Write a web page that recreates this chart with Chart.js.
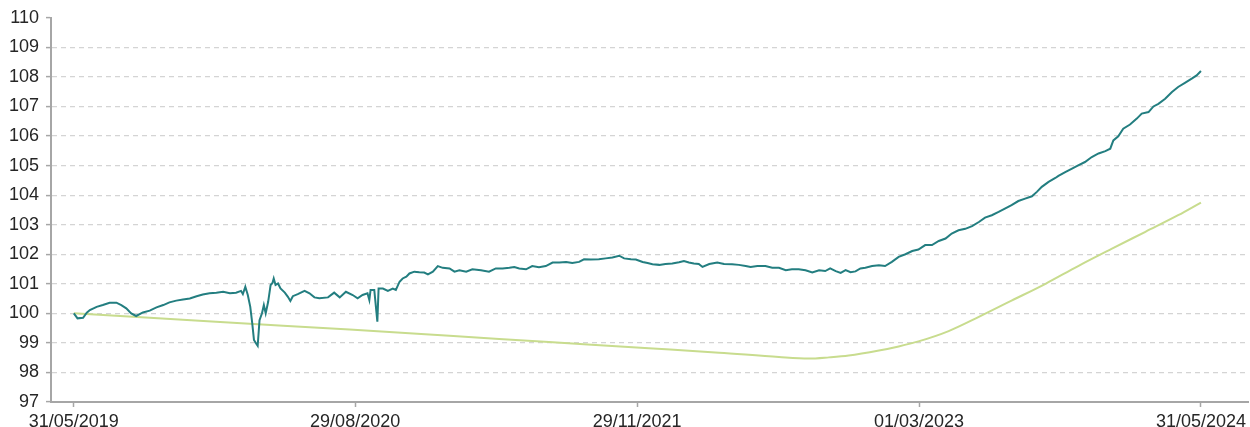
<!DOCTYPE html>
<html>
<head>
<meta charset="utf-8">
<script src="https://cdn.jsdelivr.net/npm/chart.js@4.4.1/dist/chart.umd.min.js"></script>
<style>
  html, body { margin: 0; padding: 0; background: #ffffff; }
  #wrap { width: 1250px; height: 427px; }
</style>
</head>
<body>
<div id="wrap"><canvas id="myChart" width="1250" height="427"></canvas></div>
<script>
// x values are days counted from 31/05/2019
const tickDays = [0, 456, 913, 1370, 1827];
const tickLabels = ['31/05/2019', '29/08/2020', '29/11/2021', '01/03/2023', '31/05/2024'];

const tealDays = [
  0, 6, 15, 21, 26, 37, 47, 58, 69, 77, 85, 93, 101, 112, 123, 134, 145, 155, 166, 177,
  188, 199, 209, 220, 231, 242, 253, 263, 271, 274, 278, 282, 286, 289, 292, 296, 298, 301, 305, 308,
  311, 315, 319, 322, 324, 327, 331, 335, 342, 347, 351, 355, 363, 374, 382, 390, 398, 412, 422, 431,
  441, 452, 460, 468, 476, 479, 481, 487, 492, 494, 501, 509, 517, 522, 528, 533, 539, 544, 552, 560,
  568, 574, 582, 590, 598, 609, 617, 625, 636, 646, 660, 673, 684, 695, 706, 714, 722, 733, 743, 754,
  765, 776, 787, 798, 808, 819, 827, 838, 851, 862, 873, 884, 892, 903, 911, 922, 930, 938, 949, 959,
  970, 981, 989, 997, 1005, 1013, 1019, 1030, 1043, 1054, 1067, 1078, 1089, 1097, 1108, 1121, 1132, 1143, 1154, 1164,
  1175, 1186, 1197, 1208, 1218, 1226, 1235, 1243, 1251, 1259, 1267, 1275, 1283, 1294, 1305, 1315, 1326, 1337, 1348, 1359,
  1369, 1380, 1391, 1402, 1413, 1423, 1434, 1445, 1456, 1467, 1477, 1488, 1499, 1510, 1520, 1531, 1542, 1553, 1561, 1569,
  1580, 1591, 1596, 1607, 1618, 1628, 1639, 1650, 1661, 1672, 1680, 1685, 1693, 1701, 1712, 1723, 1731, 1742, 1750, 1758,
  1769, 1780, 1790, 1801, 1812, 1820, 1827
];
const tealValues = [
  100.0, 99.83, 99.85, 100.02, 100.11, 100.22, 100.28, 100.36, 100.36, 100.28, 100.17, 100.0, 99.91, 100.03, 100.09, 100.2, 100.28, 100.37, 100.43, 100.47,
  100.5, 100.58, 100.64, 100.68, 100.7, 100.73, 100.68, 100.7, 100.76, 100.65, 100.9, 100.62, 100.22, 99.7, 99.1, 98.96, 98.9, 99.77, 100.0, 100.28,
  100.0, 100.39, 100.96, 101.03, 101.18, 100.96, 101.01, 100.84, 100.7, 100.56, 100.42, 100.58, 100.65, 100.76, 100.68, 100.54, 100.51, 100.54, 100.7, 100.54,
  100.73, 100.62, 100.51, 100.62, 100.68, 100.45, 100.79, 100.79, 99.72, 100.84, 100.84, 100.76, 100.84, 100.79, 101.07, 101.18, 101.24, 101.35, 101.41, 101.39,
  101.38, 101.32, 101.41, 101.6, 101.54, 101.52, 101.41, 101.46, 101.41, 101.49, 101.46, 101.41, 101.52, 101.52, 101.54, 101.57, 101.52, 101.49, 101.6, 101.56,
  101.6, 101.72, 101.72, 101.74, 101.7, 101.74, 101.83, 101.82, 101.83, 101.86, 101.89, 101.95, 101.86, 101.83, 101.82, 101.74, 101.7, 101.66, 101.64, 101.67,
  101.69, 101.73, 101.77, 101.72, 101.69, 101.67, 101.57, 101.67, 101.72, 101.67, 101.66, 101.64, 101.6, 101.57, 101.6, 101.6, 101.54, 101.54, 101.46, 101.49,
  101.49, 101.46, 101.38, 101.46, 101.43, 101.52, 101.43, 101.37, 101.46, 101.39, 101.42, 101.52, 101.54, 101.6, 101.63, 101.6, 101.74, 101.91, 102.0, 102.11,
  102.16, 102.31, 102.31, 102.45, 102.53, 102.7, 102.81, 102.86, 102.95, 103.09, 103.24, 103.32, 103.43, 103.55, 103.66, 103.8, 103.88, 103.96, 104.11, 104.28,
  104.45, 104.58, 104.65, 104.78, 104.9, 105.01, 105.12, 105.29, 105.41, 105.49, 105.57, 105.85, 105.99, 106.25, 106.39, 106.59, 106.76, 106.81, 107.0, 107.09,
  107.26, 107.49, 107.66, 107.8, 107.94, 108.05, 108.2
];

const greenDays = [0, 123, 285, 447, 609, 770, 932, 1046, 1143, 1191, 1224, 1256, 1305, 1337, 1369, 1418, 1467, 1520, 1575, 1628, 1682, 1737, 1790, 1827];
const greenValues = [100.0, 99.85, 99.65, 99.45, 99.24, 99.03, 98.82, 98.67, 98.52, 98.47, 98.51, 98.57, 98.74, 98.88, 99.05, 99.4, 99.88, 100.43, 101.0, 101.6, 102.18, 102.76, 103.32, 103.75];

const toPoints = (xs, ys) => xs.map((x, i) => ({ x: x, y: ys[i] }));

const textColor = '#262626';
const axisColor = '#a6a6a6';
const gridColor = '#d4d4d4';

const ctx = document.getElementById('myChart').getContext('2d');

const config = {
  type: 'line',
  data: {
    datasets: [{
      label: 'Serie 1',
      data: toPoints(tealDays, tealValues),
      borderColor: '#237e80',
      borderWidth: 2,
      pointRadius: 0,
      tension: 0
    }, {
      label: 'Serie 2',
      data: toPoints(greenDays, greenValues),
      borderColor: '#c8dc8e',
      borderWidth: 2,
      pointRadius: 0,
      cubicInterpolationMode: 'monotone'
    }]
  },
  options: {
    responsive: false,
    animation: false,
    devicePixelRatio: 1,
    layout: { padding: { top: 17, right: 0, left: 0, bottom: 0 } },
    plugins: {
      legend: { display: false },
      tooltip: { enabled: false }
    },
    scales: {
      x: {
        type: 'linear',
        min: -37,
        max: 1904,
        afterBuildTicks: (scale) => {
          scale.ticks = tickDays.map(v => ({ value: v }));
        },
        afterFit: (scale) => { scale.height = 25; },
        ticks: {
          autoSkip: false,
          maxRotation: 0,
          padding: 4,
          color: textColor,
          font: { family: 'Liberation Sans, Arial, sans-serif', size: 18 },
          callback: (value) => {
            const i = tickDays.indexOf(value);
            return i >= 0 ? tickLabels[i] : '';
          }
        },
        grid: {
          drawOnChartArea: false,
          drawTicks: true,
          tickLength: 5,
          tickColor: axisColor,
          tickWidth: 1.5
        },
        border: { display: true, color: axisColor, width: 2 }
      },
      y: {
        min: 97,
        max: 110,
        afterFit: (scale) => { scale.width = 51; },
        ticks: {
          stepSize: 1,
          padding: 7,
          color: textColor,
          font: { family: 'Liberation Sans, Arial, sans-serif', size: 18 }
        },
        grid: {
          color: (c) => (c.tick && (c.tick.value === 110 || c.tick.value === 97)) ? 'rgba(0,0,0,0)' : gridColor,
          lineWidth: 1.2,
          tickLength: 5,
          tickColor: axisColor,
          tickWidth: 1.5,
          tickBorderDash: []
        },
        border: { display: true, color: axisColor, width: 2, dash: [5, 4] }
      }
    }
  }
};

const chart = new Chart(ctx, config);
</script>
</body>
</html>
